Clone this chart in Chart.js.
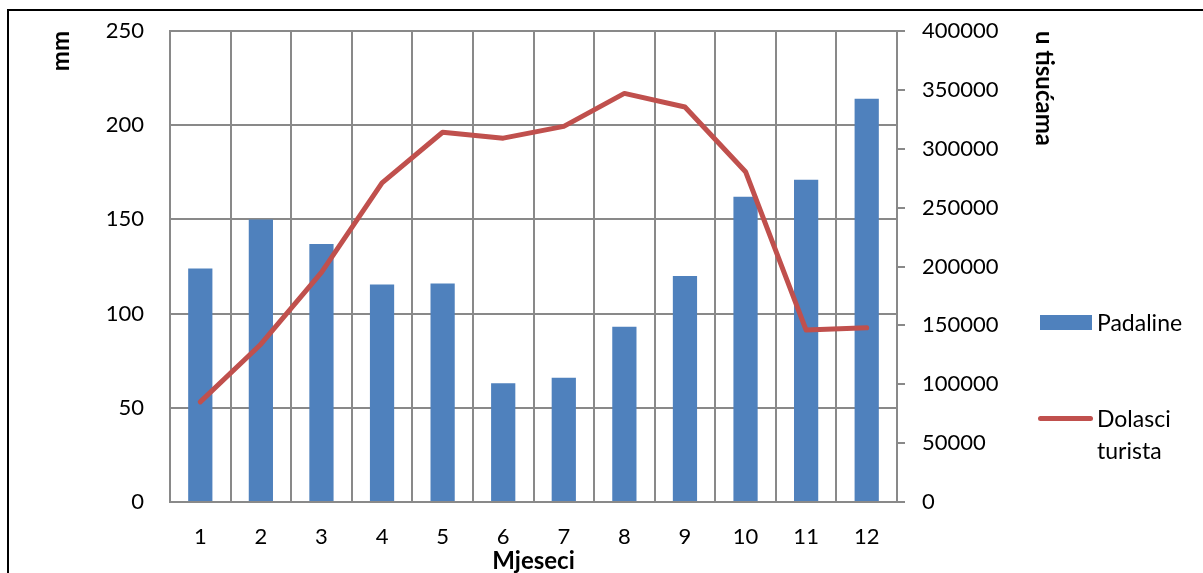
<!DOCTYPE html>
<html>
<head>
<meta charset="utf-8">
<script src="https://cdn.jsdelivr.net/npm/chart.js@4.4.0/dist/chart.umd.min.js"></script>
<style>
  html, body { margin: 0; padding: 0; background: #fff; overflow: hidden; }
  #wrap { position: relative; width: 1203px; height: 573px; }
  #c { position: absolute; left: 0; top: 0; }
  #frame { position: absolute; left: 7px; top: 9px; width: 1300px; height: 700px; border: 2px solid #000; pointer-events: none; }
  .lg { position: absolute; font-family: Lato, sans-serif; font-size: 23px; color: #000; line-height: 32px; }
  .sw-bar { position: absolute; left: 1040px; top: 315px; width: 52px; height: 15px; background: #4F81BD; }
  .sw-line { position: absolute; left: 1038px; top: 416px; width: 55px; height: 5px; border-radius: 3px; background: #C0504D; }
</style>
</head>
<body>
<div id="wrap">
  <canvas id="c" width="1203" height="573"></canvas>
  <div class="sw-bar"></div>
  <div class="lg" style="left:1097px; top:306px;">Padaline</div>
  <div class="sw-line"></div>
  <div class="lg" style="left:1097px; top:402px;">Dolasci<br>turista</div>
  <div id="frame"></div>
</div>
<script>
const months = ['1','2','3','4','5','6','7','8','9','10','11','12'];
const padaline = [124, 150, 137, 115.5, 116, 63, 66, 93, 120, 162, 171, 214];
const dolasciTurista = [85000, 134000, 195000, 271000, 314000, 309000, 319000, 347000, 335500, 280500, 146000, 148000];
const leftTicks = [0, 50, 100, 150, 200, 250];
const rightTicks = [0, 50000, 100000, 150000, 200000, 250000, 300000, 350000, 400000];

const GRID = '#898989';
const tickFont = { family: 'Lato', size: 22 };
const titleFont = { family: 'Lato', size: 24, weight: 'bold', lineHeight: 1 };

new Chart(document.getElementById('c'), {
  data: {
    labels: months,
    datasets: [
      {
        type: 'line',
        label: 'Dolasci turista',
        data: dolasciTurista,
        yAxisID: 'y1',
        borderColor: '#C0504D',
        backgroundColor: '#C0504D',
        borderWidth: 5,
        pointRadius: 0,
        pointHoverRadius: 0,
        tension: 0,
        borderCapStyle: 'round',
        borderJoinStyle: 'round',
        order: 0
      },
      {
        type: 'bar',
        label: 'Padaline',
        data: padaline,
        yAxisID: 'y',
        backgroundColor: '#4F81BD',
        borderWidth: 0,
        barPercentage: 0.4,
        categoryPercentage: 1.0,
        order: 1
      }
    ]
  },
  options: {
    responsive: false,
    animation: false,
    events: [],
    layout: { padding: { left: 0, top: 31, right: 146, bottom: 0 } },
    plugins: { legend: { display: false }, tooltip: { enabled: false } },
    scales: {
      x: {
        type: 'category',
        offset: true,
        grid: { display: true, offset: true, color: GRID, lineWidth: 2, drawTicks: false },
        border: { display: true, color: GRID, width: 2 },
        ticks: { font: tickFont, color: '#000', padding: 22, maxRotation: 0, autoSkip: false },
        title: { display: true, text: 'Mjeseci', font: titleFont, color: '#000', padding: 0 },
        afterFit: (s) => { s.height = 71; }
      },
      y: {
        type: 'linear',
        position: 'left',
        min: 0, max: 250,
        afterBuildTicks: (s) => { s.ticks = leftTicks.map(v => ({ value: v })); },
        grid: { color: GRID, lineWidth: 2, drawTicks: false },
        border: { display: true, color: GRID, width: 2 },
        ticks: { font: tickFont, color: '#000', padding: 26, callback: (v) => String(v) },
        title: { display: true, text: 'mm', align: 'end', font: titleFont, color: '#000', padding: { top: 49, bottom: 0 } },
        afterFit: (s) => { s.width = 170; s.paddingTop = 0; s.paddingBottom = 0; }
      },
      y1: {
        type: 'linear',
        position: 'right',
        min: 0, max: 400000,
        afterBuildTicks: (s) => { s.ticks = rightTicks.map(v => ({ value: v })); },
        grid: { drawOnChartArea: false, drawTicks: true, tickLength: 8, color: GRID, lineWidth: 2 },
        border: { display: true, color: GRID, width: 2 },
        ticks: { font: tickFont, color: '#000', padding: 17, callback: (v) => String(v) },
        title: { display: true, text: 'u tisućama', align: 'end', font: titleFont, color: '#000', padding: { top: 1, bottom: 0 } },
        afterFit: (s) => { s.width = 160; s.paddingTop = 0; s.paddingBottom = 0; }
      }
    }
  }
});
</script>
</body>
</html>
